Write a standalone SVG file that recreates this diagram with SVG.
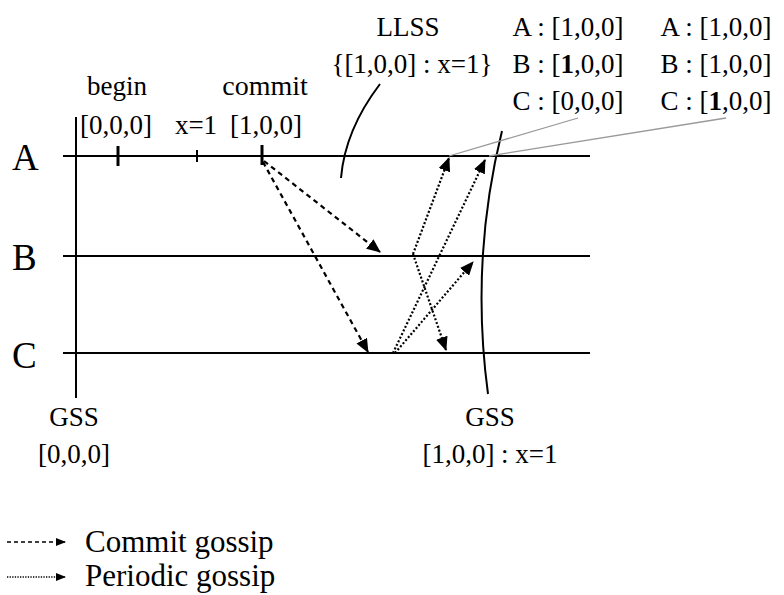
<svg xmlns="http://www.w3.org/2000/svg" width="784" height="595" viewBox="0 0 784 595">
<defs>
<marker id="ah" markerUnits="userSpaceOnUse" markerWidth="14" markerHeight="12" refX="13" refY="6" orient="auto">
<path d="M0,0 L14,6 L0,12 Z" fill="#000"/>
</marker>
<marker id="ahs" markerUnits="userSpaceOnUse" markerWidth="10" markerHeight="8" refX="9" refY="4" orient="auto">
<path d="M0,0 L10,4 L0,8 Z" fill="#000"/>
</marker>
<style>
text{font-family:"Liberation Serif","DejaVu Serif",serif;fill:#000}
.t{font-size:27px}
.big{font-size:37px}
.lg{font-size:31px}
.ln{stroke:#000;stroke-width:2;fill:none}
.tk{stroke:#000;stroke-width:3}
.dash{stroke:#000;stroke-width:2.2;stroke-dasharray:5,4;fill:none;marker-end:url(#ah)}
.dot{stroke:#000;stroke-width:2.2;stroke-dasharray:2,2;fill:none;marker-end:url(#ah)}
.gray{stroke:#999;stroke-width:1.3;fill:none}
</style>
</defs>

<g id="timelines">
<line class="ln" x1="63" y1="156" x2="590" y2="156"/>
<line class="ln" x1="63" y1="256" x2="590" y2="256"/>
<line class="ln" x1="63" y1="353" x2="590" y2="353"/>
<line class="ln" x1="76" y1="117" x2="76" y2="398"/>
<line class="tk" x1="118" y1="146" x2="118" y2="166"/>
<line class="ln" x1="197" y1="150" x2="197" y2="162"/>
<line class="tk" x1="262" y1="145" x2="262" y2="165"/>
</g>

<g id="process-labels">
<text class="big" x="12" y="170">A</text>
<text class="big" x="12" y="270">B</text>
<text class="big" x="12" y="368">C</text>
</g>

<g id="event-labels" class="t" text-anchor="middle">
<text x="117" y="95">begin</text>
<text x="265" y="95" font-size="28">commit</text>
<text x="116" y="134">[0,0,0]</text>
<text x="196" y="134">x=1</text>
<text x="266" y="134">[1,0,0]</text>
</g>

<g id="llss" class="t" text-anchor="middle">
<text x="408" y="36">LLSS</text>
<text x="412" y="73">{[1,0,0] : x=1}</text>
<path class="ln" d="M380,84 Q345,130 341,178"/>
</g>

<g id="state1" class="t" text-anchor="middle">
<text x="568" y="36">A : [1,0,0]</text>
<text x="568" y="73">B : [<tspan font-weight="bold">1</tspan>,0,0]</text>
<text x="568" y="110">C : [0,0,0]</text>
</g>

<g id="state2" class="t" text-anchor="middle">
<text x="716" y="36">A : [1,0,0]</text>
<text x="716" y="73">B : [1,0,0]</text>
<text x="716" y="110">C : [<tspan font-weight="bold">1</tspan>,0,0]</text>
</g>

<g id="gss-left" class="t" text-anchor="middle">
<text x="74" y="426">GSS</text>
<text x="74" y="463">[0,0,0]</text>
</g>

<g id="gss-right" class="t" text-anchor="middle">
<text x="490" y="426">GSS</text>
<text x="490" y="463">[1,0,0] : x=1</text>
<path class="ln" d="M502,131 Q470,260 488,394"/>
</g>

<g id="connectors">
<line class="gray" x1="578" y1="118" x2="449" y2="156"/>
<line class="gray" x1="726" y1="118" x2="489" y2="156"/>
<line class="dash" x1="264" y1="161" x2="380" y2="252"/>
<line class="dash" x1="263" y1="162" x2="368" y2="352"/>
<line class="dot" x1="413" y1="254" x2="449" y2="158"/>
<line class="dot" x1="413" y1="254" x2="446" y2="350"/>
<line class="dot" x1="393" y1="353" x2="485" y2="160"/>
<line class="dot" x1="395" y1="353" x2="473" y2="262"/>
</g>

<g id="legend">
<line x1="7" y1="542" x2="65" y2="542" stroke="#000" stroke-width="1.3" stroke-dasharray="4,3" marker-end="url(#ahs)"/>
<text class="lg" x="85" y="552">Commit gossip</text>
<line x1="7" y1="577" x2="65" y2="577" stroke="#000" stroke-width="1.3" stroke-dasharray="1.3,1.3" marker-end="url(#ahs)"/>
<text class="lg" x="85" y="586">Periodic gossip</text>
</g>
</svg>
